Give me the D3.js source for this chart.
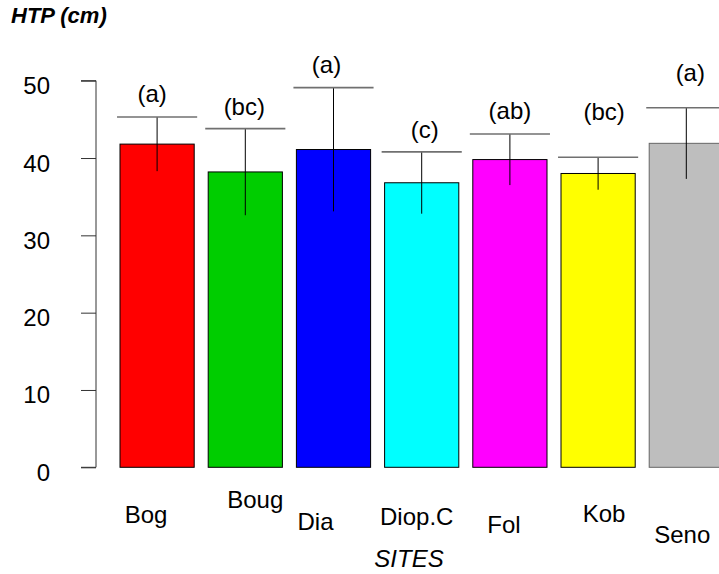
<!DOCTYPE html>
<html>
<head>
<meta charset="utf-8">
<script src="https://cdnjs.cloudflare.com/ajax/libs/d3/7.8.5/d3.min.js"></script>
<style>
  body { margin: 0; background: #fff; }
  text { font-family: "Liberation Sans", Arial, sans-serif; }
</style>
</head>
<body>
<div id="chart"></div>
<script>
// data
var sites = ["Bog", "Boug", "Dia", "Diop.C", "Fol", "Kob", "Seno"];
var means = [41.8, 38.2, 41.1, 36.8, 39.8, 38.0, 41.9];
var sds = [3.5, 5.6, 8.0, 4.0, 3.3, 2.1, 4.6];
var letters = ["(a)", "(bc)", "(a)", "(c)", "(ab)", "(bc)", "(a)"];
var letterY = [47.3, 45.6, 51.0, 42.6, 45.0, 44.9, 50.0];
var yTicks = [0, 10, 20, 30, 40, 50];
var colors = ["#FF0000", "#00CD00", "#0000FF", "#00FFFF", "#FF00FF", "#FFFF00", "#BEBEBE"];
var borders = ["#000", "#000", "#000", "#000", "#000", "#000", "#666"];

// label nudges (px), the labels are staggered in the original
var letterDx = [-5, -1, -7, 3, 0, 6, 4];
var siteDx = [-11, 10, -18, -5, -6, 6, -4];
var siteBaseline = [523, 508, 530, 525, 533, 522, 543];

var width = 719, height = 574;

var svg = d3.select("#chart").append("svg")
    .attr("width", width)
    .attr("height", height);

var xScale = d3.scaleBand()
    .domain(sites)
    .range([120, 723.4])
    .paddingInner(14 / 88.2)
    .paddingOuter(0);

var yScale = d3.scaleLinear()
    .domain([0, 50])
    .range([467.3, 80.7]);

// y axis
var yAxis = d3.axisLeft(yScale)
    .tickValues(yTicks)
    .tickSize(15)
    .tickSizeOuter(15)
    .tickPadding(46);

var yg = svg.append("g")
    .attr("transform", "translate(96,0)")
    .call(yAxis);
yg.select(".domain").attr("stroke", "#333").attr("d", "M-15," + yScale(50) + "H0V" + yScale(0) + "H-15");
yg.selectAll(".tick line").attr("stroke", "#333");
yg.selectAll(".tick text")
    .attr("font-size", 24)
    .attr("fill", "#000")
    .attr("dy", 13)
    .attr("x", -46);

// bars
var cx = function (i) { return xScale(sites[i]) + xScale.bandwidth() / 2; };

svg.append("g")
    .selectAll("rect")
    .data(means)
    .enter().append("rect")
    .attr("x", function (d, i) { return xScale(sites[i]); })
    .attr("y", function (d) { return yScale(d); })
    .attr("width", xScale.bandwidth())
    .attr("height", function (d) { return yScale(0) - yScale(d); })
    .attr("fill", function (d, i) { return colors[i]; })
    .attr("stroke", function (d, i) { return borders[i]; })
    .attr("stroke-width", 1);

// error bars: whisker + upper cap
var err = svg.append("g");
err.selectAll("line.whisker")
    .data(means)
    .enter().append("line")
    .attr("class", "whisker")
    .attr("x1", function (d, i) { return cx(i); })
    .attr("x2", function (d, i) { return cx(i); })
    .attr("y1", function (d, i) { return yScale(d - sds[i]); })
    .attr("y2", function (d, i) { return yScale(d + sds[i]); })
    .attr("stroke", "#000")
    .attr("stroke-width", 1);

err.selectAll("line.cap")
    .data(means)
    .enter().append("line")
    .attr("class", "cap")
    .attr("x1", function (d, i) { return cx(i) - xScale.bandwidth() * 0.54; })
    .attr("x2", function (d, i) { return cx(i) + xScale.bandwidth() * 0.54; })
    .attr("y1", function (d, i) { return yScale(d + sds[i]); })
    .attr("y2", function (d, i) { return yScale(d + sds[i]); })
    .attr("stroke", "#707070")
    .attr("stroke-width", 1.6);

// significance letters
svg.append("g")
    .selectAll("text")
    .data(letters)
    .enter().append("text")
    .attr("x", function (d, i) { return cx(i) + letterDx[i]; })
    .attr("y", function (d, i) { return yScale(letterY[i]); })
    .attr("text-anchor", "middle")
    .attr("font-size", 24)
    .text(function (d) { return d; });

// site names
svg.append("g")
    .selectAll("text")
    .data(sites)
    .enter().append("text")
    .attr("x", function (d, i) { return cx(i) + siteDx[i]; })
    .attr("y", function (d, i) { return siteBaseline[i]; })
    .attr("text-anchor", "middle")
    .attr("font-size", 24)
    .text(function (d) { return d; });

svg.append("text")
    .attr("x", 409)
    .attr("y", 567)
    .attr("text-anchor", "middle")
    .attr("font-size", 24)
    .attr("font-style", "italic")
    .text("SITES");

svg.append("text")
    .attr("x", 11)
    .attr("y", 23)
    .attr("font-size", 22)
    .attr("font-weight", "bold")
    .attr("font-style", "italic")
    .text("HTP (cm)");
</script>
</body>
</html>
